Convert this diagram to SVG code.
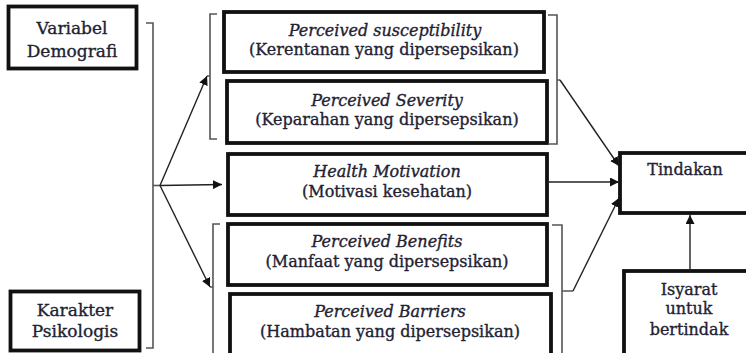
<svg xmlns="http://www.w3.org/2000/svg" width="746" height="353" viewBox="0 0 746 353">
  <defs>
    <marker id="arrow" viewBox="0 0 10 10" refX="10" refY="5" markerWidth="9" markerHeight="9" markerUnits="userSpaceOnUse" orient="auto">
      <path d="M0,0 L10,5 L0,10 z" fill="#111"/>
    </marker>
    <style>
      .box { fill: #fff; stroke: #111; stroke-width: 3.8; }
      .t { font-family: "DejaVu Serif", "Liberation Serif", serif; font-size: 16px; fill: #1e2233; stroke: #1e2233; stroke-width: 0.35; text-anchor: middle; }
      .big { font-size: 17px; }
      .it { font-style: italic; }
      .brk { fill: none; stroke: #555; stroke-width: 1.6; }
      .ln { fill: none; stroke: #222; stroke-width: 1.4; marker-end: url(#arrow); }
    </style>
  </defs>
  <rect width="746" height="353" fill="#fff"/>

  <!-- left-hand inputs -->
  <g id="variabel-demografi">
    <rect class="box" x="8.5" y="6.5" width="128" height="62"/>
    <text class="t big" x="72" y="34">Variabel</text>
    <text class="t big" x="72" y="57">Demografi</text>
  </g>
  <g id="karakter-psikologis">
    <rect class="box" x="10.5" y="291.5" width="129" height="59"/>
    <text class="t big" x="75" y="316">Karakter</text>
    <text class="t big" x="75" y="337">Psikologis</text>
  </g>

  <!-- perception constructs -->
  <g id="susceptibility">
    <rect class="box" x="224" y="12" width="320" height="60"/>
    <text class="t it" x="385" y="36">Perceived susceptibility</text>
    <text class="t" x="384" y="55">(Kerentanan yang dipersepsikan)</text>
  </g>
  <g id="severity">
    <rect class="box" x="227" y="81" width="320" height="62"/>
    <text class="t it" x="387" y="106">Perceived Severity</text>
    <text class="t" x="387" y="125">(Keparahan yang dipersepsikan)</text>
  </g>
  <g id="health-motivation">
    <rect class="box" x="228" y="154" width="319" height="61"/>
    <text class="t it" x="387" y="177">Health Motivation</text>
    <text class="t" x="387" y="197">(Motivasi kesehatan)</text>
  </g>
  <g id="benefits">
    <rect class="box" x="228" y="224" width="319" height="61"/>
    <text class="t it" x="387" y="247">Perceived Benefits</text>
    <text class="t" x="387" y="267">(Manfaat yang dipersepsikan)</text>
  </g>
  <g id="barriers">
    <rect class="box" x="230" y="294" width="321" height="64"/>
    <text class="t it" x="390" y="317">Perceived Barriers</text>
    <text class="t" x="390" y="337">(Hambatan yang dipersepsikan)</text>
  </g>

  <!-- outcome and cue -->
  <g id="tindakan">
    <rect class="box" x="620" y="153" width="140" height="60"/>
    <text class="t" x="685" y="175">Tindakan</text>
  </g>
  <g id="isyarat">
    <rect class="box" x="624" y="271" width="140" height="90"/>
    <text class="t" x="689" y="295">Isyarat</text>
    <text class="t" x="689" y="314">untuk</text>
    <text class="t" x="689" y="335">bertindak</text>
  </g>

  <!-- brackets and arrows -->
  <g id="connectors">
    <path class="brk" d="M146,23 H153 V348 H146"/>
    <path class="brk" d="M153,185.5 H160"/>
    <path class="brk" d="M217,14 H210 V139 H217 M210,76 H207"/>
    <path class="brk" d="M220,224 H213 V356 M213,287 H210"/>
    <path class="brk" d="M548,15 H557 V144 H548 M557,80 H560"/>
    <path class="brk" d="M552,225 H562 V356 M562,291 H573"/>

    <path class="ln" d="M160,185.5 L207,76"/>
    <path class="ln" d="M160,185.5 L222,184.5"/>
    <path class="ln" d="M160,185.5 L210,287"/>

    <path class="ln" d="M560,80 L619,166"/>
    <path class="ln" d="M547,182 L619,182"/>
    <path class="ln" d="M573,291 L619,198"/>
    <path class="ln" d="M690,271 L690,215"/>
  </g>
</svg>
